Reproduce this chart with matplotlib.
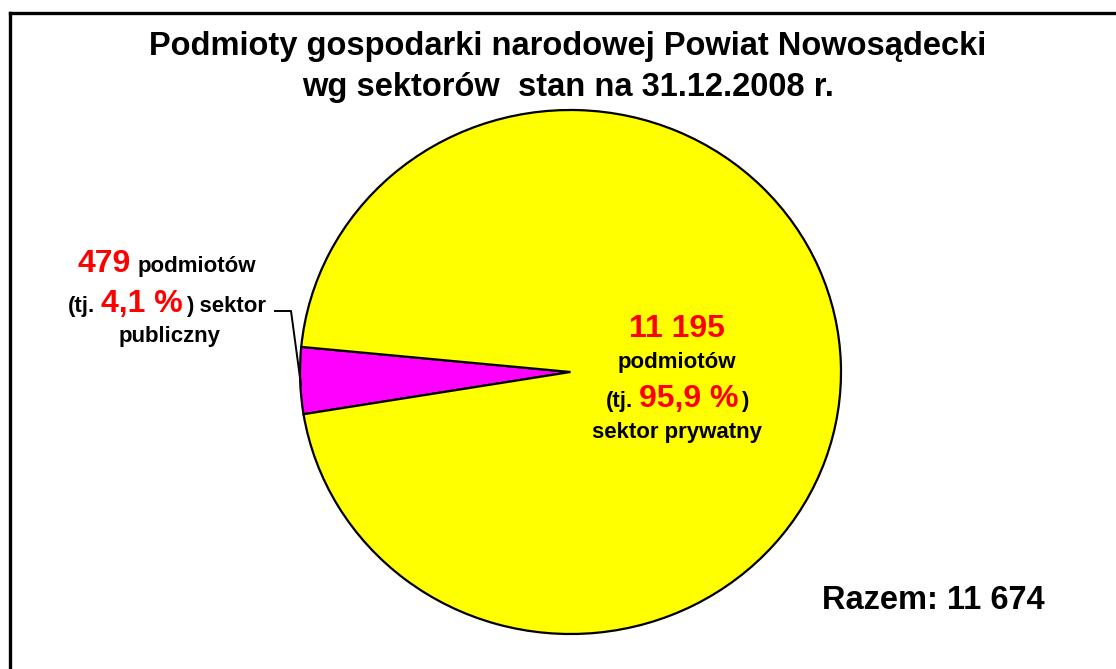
import matplotlib
matplotlib.use('Agg')
import matplotlib.pyplot as plt

# Data
sectors = ['sektor publiczny', 'sektor prywatny']
counts = [479, 11195]
shares = ['4,1 %', '95,9 %']
total = '11 674'
colors = ['#ff00ff', '#ffff00']

title = 'Podmioty gospodarki narodowej Powiat Nowosądecki\nwg sektorów  stan na 31.12.2008 r.'

plt.rcParams['font.family'] = ['Liberation Sans', 'DejaVu Sans']
plt.rcParams['font.weight'] = 'bold'

W, H = 1116, 669
fig = plt.figure(figsize=(W / 100, H / 100), dpi=100)

# pie axes (slightly wider than tall, as in the original)
pie_ax = fig.add_axes([300 / W, 35 / H, 541 / W, 524 / H])
pie_ax.pie(counts, colors=colors, startangle=174.5, counterclock=True,
           wedgeprops={'edgecolor': 'black', 'linewidth': 1.6})
pie_ax.set_xlim(-1.0, 1.0)
pie_ax.set_ylim(-1.0, 1.0)
pie_ax.set_aspect('auto')
pie_ax.axis('off')

# overlay axes in pixel units for texts, frame and leader line
ov = fig.add_axes([0, 0, 1, 1], facecolor='none')
ov.set_xlim(0, W)
ov.set_ylim(H, 0)
ov.axis('off')

renderer = fig.canvas.get_renderer()


def rich_line(xc, y, parts):
    # parts: tuples (text, size, color) or numbers = gap in px
    items = []
    total_w = 0
    for p in parts:
        if isinstance(p, (int, float)):
            total_w += p
            items.append(p)
        else:
            t = ov.text(0, y, p[0], fontsize=p[1], color=p[2], fontweight='bold',
                        ha='left', va='baseline')
            w = t.get_window_extent(renderer).width
            total_w += w
            items.append((t, w))
    x = xc - total_w / 2
    for it in items:
        if isinstance(it, (int, float)):
            x += it
        else:
            it[0].set_x(x)
            x += it[1]


red = '#ff0000'
k = 'black'
big = 23
small = 16

ov.text(568, 55, title.split('\n')[0], fontsize=23.5, fontweight='bold', ha='center', va='baseline')
ov.text(568, 96, title.split('\n')[1], fontsize=23.5, fontweight='bold', ha='center', va='baseline')

# public sector label
rich_line(167, 272, [(str(counts[0]), big, red), 7, ('podmiotów', small, k)])
rich_line(167, 312, [('(tj.', small, k), 6, (shares[0], big, red), 3, (') sektor', small, k)])
rich_line(170, 342, [('publiczny', small, k)])

# private sector label
rich_line(677, 337, [('11 195', big, red)])
rich_line(677, 368, [('podmiotów', small, k)])
rich_line(677, 407, [('(tj.', small, k), 6, (shares[1], big, red), 2, (')', small, k)])
rich_line(677, 438, [('sektor prywatny', small, k)])

ov.text(822, 609, 'Razem: ' + total, fontsize=23.5, fontweight='bold', ha='left', va='baseline')

# leader line
ov.plot([275, 291, 301], [311, 311, 385], color='black', lw=1.4)

# chart frame (only left and top visible)
ov.plot([9.5, 9.5], [H, 13], color='black', lw=2.4, solid_capstyle='projecting')
ov.plot([9.5, W], [13, 13], color='black', lw=2.4, solid_capstyle='projecting')

fig.savefig('out.png', dpi=100)
plt.close(fig)
